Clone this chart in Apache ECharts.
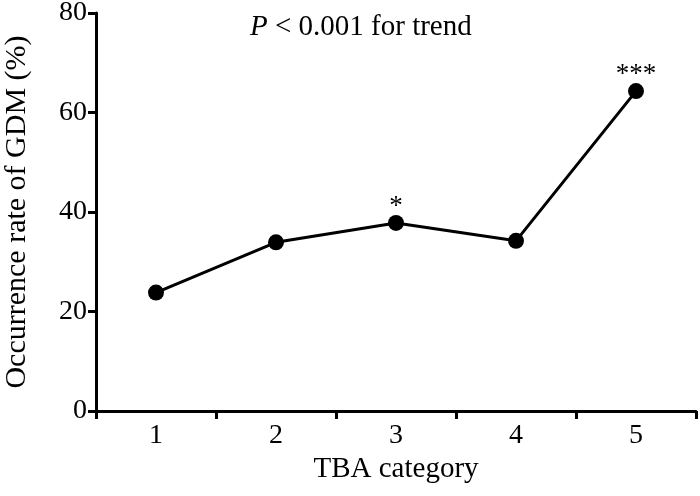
<!DOCTYPE html>
<html>
<head>
<meta charset="utf-8">
<script src="https://cdn.jsdelivr.net/npm/echarts@6/dist/echarts.min.js"></script>
<style>
html, body { margin: 0; padding: 0; background: #fff; }
#chart_panel { width: 700px; height: 496px; }
</style>
</head>
<body>
<div id="chart_panel"></div>
<script>
var categories = ['1', '2', '3', '4', '5'];
var rateValues = [23.8, 33.9, 37.8, 34.2, 64.3];
var sigMarks = ['', '', '*', '', '***'];
var yTicks = [0, 20, 40, 60, 80];

var myChart = echarts.init(document.getElementById('chart_panel'));
var font = '"Liberation Serif", "Times New Roman", serif';

function getSeriesData() {
	var data = [];
	for (var i = 0; i < rateValues.length; i++) {
		data.push({
			value: rateValues[i],
			label: {
				show: sigMarks[i] != '',
				position: 'top',
				distance: -5,
				formatter: sigMarks[i],
				color: '#000',
				fontFamily: font,
				fontSize: 27
			}
		});
	}
	return data;
}

var option = {
	animation: false,
	textStyle: { fontFamily: font },
	grid: { left: 96, right: 4, top: 13, bottom: 85, containLabel: false, outerBoundsMode: 'none' },
	title: {
		text: '{i|P} < 0.001 for trend',
		left: 245,
		top: 8,
		textStyle: {
			fontFamily: font,
			fontSize: 29,
			fontWeight: 'normal',
			color: '#000',
			rich: {
				i: { fontFamily: font, fontSize: 29, fontStyle: 'italic', color: '#000' }
			}
		}
	},
	xAxis: {
		type: 'category',
		data: categories,
		boundaryGap: true,
		name: 'TBA category',
		nameLocation: 'middle',
		nameGap: 40,
		nameTextStyle: { fontFamily: font, fontSize: 29, color: '#000' },
		axisLine: { lineStyle: { color: '#000', width: 3 } },
		axisTick: { show: true, length: 8, lineStyle: { color: '#000', width: 3 } },
		axisLabel: { fontFamily: font, fontSize: 28, color: '#000', margin: 11 }
	},
	yAxis: {
		type: 'value',
		min: 0,
		max: 80,
		interval: 20,
		name: 'Occurrence rate of GDM (%)',
		nameLocation: 'middle',
		nameGap: 64,
		nameRotate: 90,
		nameTextStyle: { fontFamily: font, fontSize: 30, color: '#000' },
		axisLine: { show: true, lineStyle: { color: '#000', width: 3 } },
		axisTick: { show: true, length: 8, lineStyle: { color: '#000', width: 3 } },
		axisLabel: {
			fontFamily: font, fontSize: 28, color: '#000', margin: 9,
			formatter: function (v) { return yTicks.indexOf(v) >= 0 ? v : ''; }
		},
		splitLine: { show: false }
	},
	series: [{
		type: 'line',
		data: getSeriesData(),
		symbol: 'circle',
		symbolSize: 16,
		lineStyle: { color: '#000', width: 3 },
		itemStyle: { color: '#000' }
	}]
};
myChart.setOption(option);
</script>
</body>
</html>
